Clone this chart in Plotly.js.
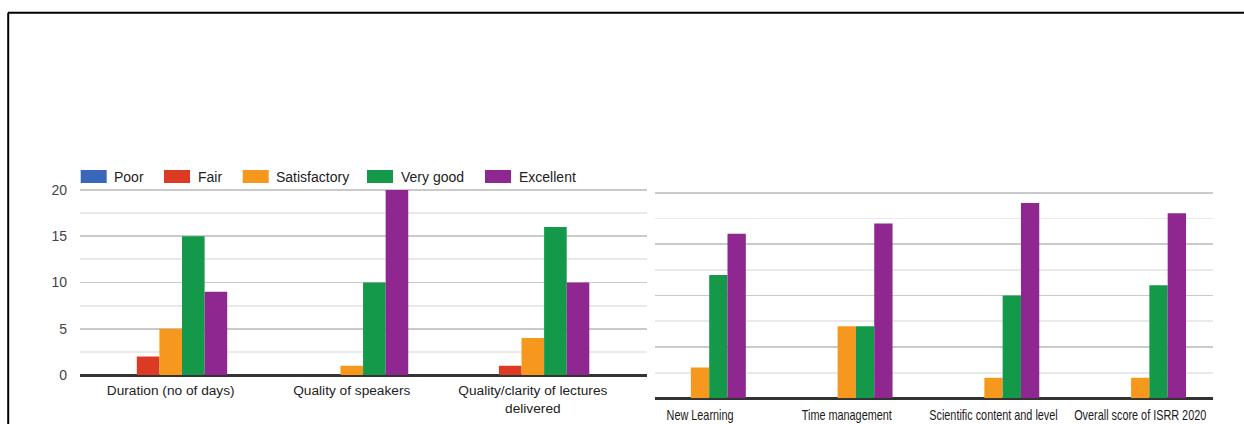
<!DOCTYPE html>
<html><head><meta charset="utf-8">
<script src="https://cdn.plot.ly/plotly-3.0.1.min.js"></script>
<style>html,body{margin:0;padding:0;background:#fff;overflow:hidden}#chart{width:1244px;height:424px}</style>
</head><body><div id="chart"></div>
<script>
// ---- data ----
const series = ['Poor', 'Fair', 'Satisfactory', 'Very good', 'Excellent'];
const leftCategories = ['Duration (no of days)', 'Quality of speakers', 'Quality/clarity of lectures<br>delivered'];
const leftPoor = [0, 0, 0];
const leftFair = [2, 0, 1];
const leftSatisfactory = [5, 1, 4];
const leftVeryGood = [15, 10, 16];
const leftExcellent = [9, 20, 10];
const rightCategories = ['New Learning', 'Time management', 'Scientific content and level', 'Overall score of ISRR 2020'];
const rightPoor = [0, 0, 0, 0];
const rightFair = [0, 0, 0, 0];
const rightSatisfactory = [3, 7, 2, 2];
const rightVeryGood = [12, 7, 10, 11];
const rightExcellent = [16, 17, 19, 18];
const leftTickValues = [0, 5, 10, 15, 20];

// ---- styles ----
const colors = ['#3b67ba', '#dc3a24', '#f7981e', '#14984a', '#8e2790'];
const W = 1244, H = 424;
const px = v => v / W;
const py = v => 1 - v / H;
const FONT = 'Liberation Sans, Arial, sans-serif';

const leftValues = [leftPoor, leftFair, leftSatisfactory, leftVeryGood, leftExcellent];
const rightValues = [rightPoor, rightFair, rightSatisfactory, rightVeryGood, rightExcellent];

const traces = [];
series.forEach((name, i) => {
  traces.push({type: 'bar', name: name, x: leftCategories, y: leftValues[i], xaxis: 'x', yaxis: 'y',
    marker: {color: colors[i], line: {width: 0}}, showlegend: false, hoverinfo: 'x+y+name'});
});
series.forEach((name, i) => {
  traces.push({type: 'bar', name: name, x: rightCategories, y: rightValues[i], xaxis: 'x2', yaxis: 'y2',
    marker: {color: colors[i], line: {width: 0}}, showlegend: false, hoverinfo: 'x+y+name'});
});

// custom legend (swatch rectangles + text)
const swatchX = [80.7, 164, 242.7, 367, 485];
const shapes = [];
const annotations = [];
series.forEach((name, i) => {
  shapes.push({type: 'rect', xref: 'paper', yref: 'paper', x0: px(swatchX[i]), x1: px(swatchX[i] + 26),
    y0: py(183), y1: py(170), fillcolor: colors[i], line: {width: 0}, layer: 'above'});
  annotations.push({xref: 'paper', yref: 'paper', x: px(swatchX[i] + 31.5), y: py(176.8), xanchor: 'left', yanchor: 'middle',
    text: name, showarrow: false, font: {family: FONT, size: 14, color: '#222'}});
});
// page frame
shapes.push({type: 'line', xref: 'paper', yref: 'paper', x0: px(8), x1: px(1250), y0: py(12.8), y1: py(12.8), line: {color: '#000', width: 2}});
shapes.push({type: 'line', xref: 'paper', yref: 'paper', x0: px(8.2), x1: px(8.2), y0: py(12.8), y1: py(430), line: {color: '#000', width: 2}});

const baseY = {
  showline: false, ticks: '', zeroline: true, zerolinecolor: '#333', zerolinewidth: 3,
  gridcolor: '#cacaca', gridwidth: 1.8, dtick: 5, tick0: 0,
  minor: {dtick: 2.5, tick0: 0, showgrid: true, gridcolor: '#e9e9e9', gridwidth: 1.8},
  fixedrange: true
};

const layout = {
  width: W, height: H,
  margin: {l: 0, r: 0, t: 0, b: 0},
  paper_bgcolor: '#fff', plot_bgcolor: '#fff',
  barmode: 'group', bargap: 0.376, bargroupgap: 0,
  showlegend: false,
  font: {family: FONT, size: 14, color: '#444'},
  xaxis: {domain: [px(80), px(646.7)], range: [-0.501, 2.629], type: 'category', showgrid: false, showline: false,
    ticks: '', zeroline: false, tickangle: 0, tickfont: {family: FONT, size: 13.7, color: '#222'}, ticklabelstandoff: 5, fixedrange: true},
  yaxis: Object.assign({}, baseY, {domain: [py(375), py(166)], range: [0, 22.6], tickvals: leftTickValues,
    tickfont: {family: FONT, size: 14, color: '#444'}, ticklabelstandoff: 12}),
  xaxis2: {domain: [px(655), px(1212.7)], range: [-0.307, 3.494], type: 'category', showgrid: false, showline: false,
    ticks: '', zeroline: false, anchor: 'y2', tickangle: 0,
    tickfont: {family: FONT, size: 14, color: '#1a1a1a'}, ticklabelstandoff: 7, fixedrange: true},
  yaxis2: Object.assign({}, baseY, {domain: [py(398.3), py(191.7)], range: [0, 20.1], anchor: 'x2', showticklabels: false}),
  shapes: shapes,
  annotations: annotations
};

// horizontally condense the right panel's category labels (the reference uses a narrow face)
function condenseLabels(gd) {
  gd.querySelectorAll('.xaxislayer-above .x2tick text').forEach(t => {
    const cx = parseFloat(t.getAttribute('x')) || 0;
    const base = t.getAttribute('transform') || '';
    if (t.dataset.condensed) return;
    t.setAttribute('transform', base + ' translate(' + cx + ',0) scale(0.776,1) translate(' + (-cx) + ',0)');
    t.dataset.condensed = '1';
  });
}

Plotly.newPlot('chart', traces, layout, {staticPlot: true, displayModeBar: false}).then(condenseLabels);
</script>
</body></html>
